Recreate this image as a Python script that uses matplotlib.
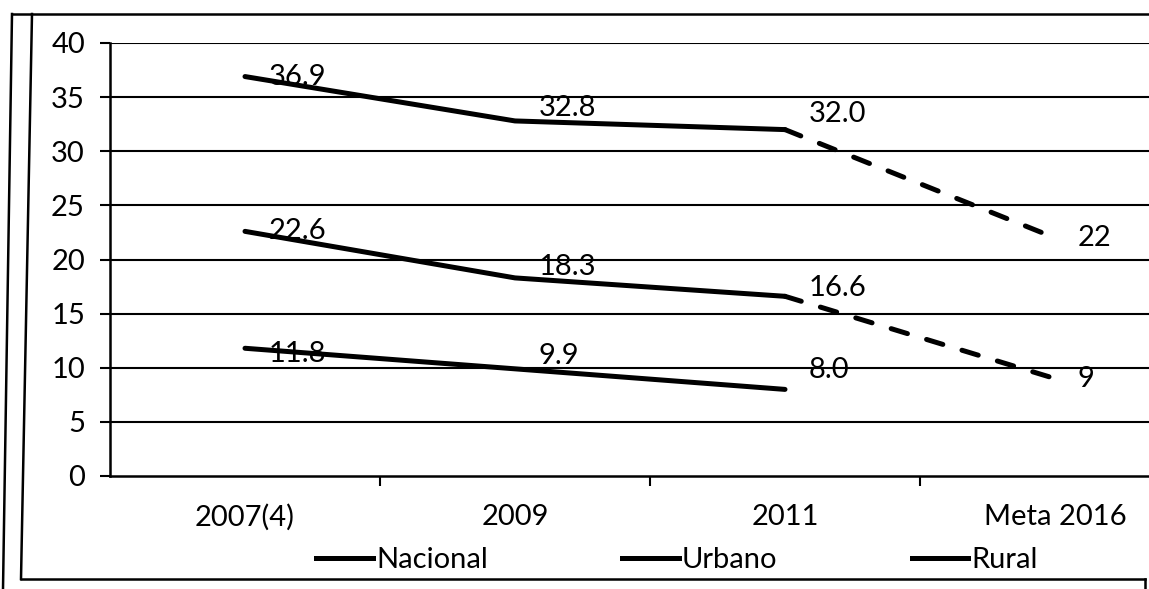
import matplotlib.pyplot as plt
from matplotlib.lines import Line2D

# categorias e séries
categorias = ['2007(4)', '2009', '2011', 'Meta 2016']
rural = [36.9, 32.8, 32.0]
nacional = [22.6, 18.3, 16.6]
urbano = [11.8, 9.9, 8.0]
meta_rural = 22
meta_nacional = 9
rotulos_meta = ['22', '9']

plt.rcParams['font.family'] = ['Lato', 'DejaVu Sans']
FONTE = 21

W, H = 1149, 589
fig = plt.figure(figsize=(W / 100, H / 100), dpi=100)
ax = fig.add_axes([110 / W, 1 - 476 / H, 1 - 110 / W, (476 - 43) / H])

x = list(range(len(categorias)))
estilo = dict(color='black', lw=3.6, solid_capstyle='round')
tracejado = dict(color='black', lw=3.6, linestyle=(0, (3.4, 4.0)), dash_capstyle='round')

ax.plot(x[:3], nacional, label='Nacional', **estilo)
ax.plot(x[:3], urbano, label='Urbano', **estilo)
ax.plot(x[:3], rural, label='Rural', **estilo)
# trechos da meta
ax.plot([x[2], x[3]], [nacional[-1], meta_nacional], **tracejado)
ax.plot([x[2], x[3]], [rural[-1], meta_rural], **tracejado)

# rótulos de dados (deslocamento vertical em pontos por categoria)
desloc_y = {
    'rural': [0, 9, 11],
    'nacional': [0, 8, 6],
    'urbano': [-4, 9, 14],
}
for nome, serie in [('rural', rural), ('nacional', nacional), ('urbano', urbano)]:
    for i, v in enumerate(serie):
        ax.annotate(f'{v:.1f}', (x[i], v), xytext=(17, desloc_y[nome][i]),
                    textcoords='offset points', ha='left', va='center', fontsize=FONTE)
for v, txt in zip([meta_rural, meta_nacional], rotulos_meta):
    ax.annotate(txt, (x[3], v), xytext=(16, 0), textcoords='offset points',
                ha='left', va='center', fontsize=FONTE)

ax.set_ylim(0, 40)
ax.set_xlim(-0.5, (W - 245) / 270)
ax.set_yticks(range(0, 41, 5))
for y in range(5, 41, 5):
    ax.axhline(y, color='black', lw=1.5, zorder=0)

ax.set_xticks([0.5, 1.5, 2.5])
ax.set_xticklabels([])
ax.set_xticks(x, minor=True)
ax.set_xticklabels(categorias, minor=True, fontsize=FONTE)
ax.tick_params(axis='x', which='major', direction='out', length=7, width=1.5)
ax.tick_params(axis='x', which='minor', length=0, pad=20)
ax.tick_params(axis='y', direction='out', length=7, width=1.5, pad=11, labelsize=FONTE)

for s in ['top', 'right']:
    ax.spines[s].set_visible(False)
for s in ['left', 'bottom']:
    ax.spines[s].set_linewidth(1.8)
    ax.spines[s].set_color('black')

handles = [Line2D([], [], color='black', lw=3.6) for _ in range(3)]
fig.legend(handles, ['Nacional', 'Urbano', 'Rural'], loc='center',
           bbox_to_anchor=(677 / W, 1 - 560 / H), ncol=3, frameon=False,
           fontsize=FONTE, handlelength=1.95, handletextpad=0.1, columnspacing=4.6,
           borderpad=0)

# moldura externa
def px(xp, yp):
    return xp / W, 1 - yp / H

bordas = [
    ((12, 14), (3, 589)),
    ((32, 14), (21, 579)),
    ((12, 14), (1149, 14)),
    ((21, 579), (1145, 579)),
    ((1145, 579), (1145, 589)),
]
for a, b in bordas:
    (x0, y0), (x1, y1) = px(*a), px(*b)
    fig.add_artist(Line2D([x0, x1], [y0, y1], color='black', lw=1.8,
                          transform=fig.transFigure))

fig.savefig('out.png', dpi=100)
